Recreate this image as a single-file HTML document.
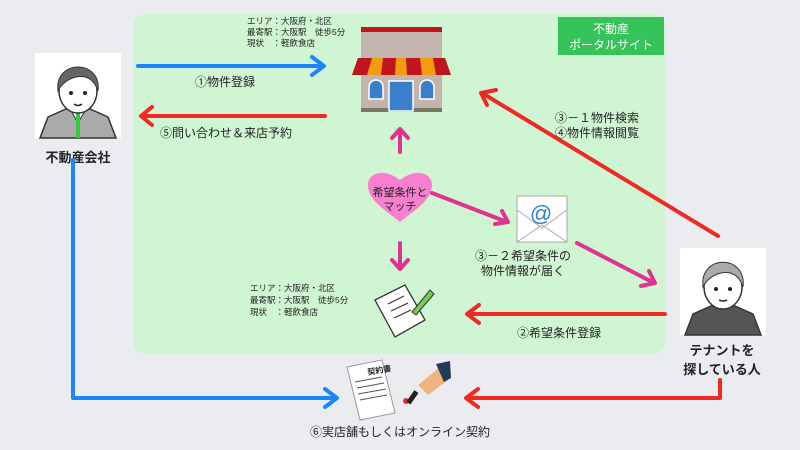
<!DOCTYPE html>
<html><head><meta charset="utf-8"><style>
html,body{margin:0;padding:0;width:800px;height:450px;overflow:hidden;background:#ebecf0}
text{font-family:"Liberation Sans","Noto Sans CJK JP",sans-serif;fill:#222}
</style></head><body>
<svg width="800" height="450" viewBox="0 0 800 450" xmlns="http://www.w3.org/2000/svg">
<rect x="133" y="14" width="532" height="340" rx="12" fill="#d0f5d3"/>
<rect x="558" y="17" width="106" height="38" fill="#35c35a"/>
<text x="611" y="33" font-size="12" text-anchor="middle" style="fill:#fff">不動産</text>
<text x="611" y="49" font-size="12" text-anchor="middle" style="fill:#fff">ポータルサイト</text>

<!-- people -->
<rect x="35" y="53" width="86" height="85" fill="#fff"/>
<g transform="translate(78,95)">
<path d="M-38 43 L-30 22 L-12 14 L12 14 L30 22 L38 43Z" fill="#aaa" stroke="#333" stroke-width="1.5"/>
<path d="M-8 14 L0 28 L8 14Z" fill="#fff" stroke="#333"/><rect x="-2" y="18" width="4" height="25" fill="#3c3"/>
<ellipse cx="0" cy="-4" rx="19" ry="22" fill="#fff" stroke="#333" stroke-width="1.5"/>
<path d="M-20 -4 C-24 -36 24 -36 20 -4 C16 -16 8 -20 -2 -18 C-10 -16 -16 -12 -20 -4Z" fill="#666" stroke="#333"/>
<circle cx="-7" cy="-2" r="2" fill="#222"/><circle cx="7" cy="-2" r="2" fill="#222"/>
<path d="M-4 9 Q0 12 4 9" stroke="#222" fill="none" stroke-width="1.5"/>
</g>
<text x="78" y="162" font-size="13" font-weight="bold" text-anchor="middle">不動産会社</text>

<rect x="680" y="248" width="86" height="87" fill="#fff"/>
<g transform="translate(723,290)">
<path d="M-38 45 L-30 24 L-12 16 L12 16 L30 24 L38 45Z" fill="#555" stroke="#333" stroke-width="1.5"/>
<ellipse cx="0" cy="-3" rx="19" ry="22" fill="#fff" stroke="#333" stroke-width="1.5"/>
<path d="M-20 -3 C-24 -36 24 -36 20 -3 C16 -15 8 -19 -2 -17 C-10 -15 -16 -11 -20 -3Z" fill="#aaa" stroke="#333"/>
<circle cx="-7" cy="-1" r="2" fill="#222"/><circle cx="7" cy="-1" r="2" fill="#222"/>
<path d="M-4 10 Q0 12 4 10" stroke="#222" fill="none" stroke-width="1.5"/>
</g>
<text x="722" y="355" font-size="13" font-weight="bold" text-anchor="middle">テナントを</text>
<text x="722" y="374" font-size="13" font-weight="bold" text-anchor="middle">探している人</text>

<!-- shop -->
<rect x="361" y="27" width="81" height="5" fill="#c0151c"/>
<rect x="361" y="32" width="81" height="80" fill="#c3b5ae"/>
<path d="M352 75 L358 58 L445 58 L451 75Z" fill="#f39c12"/>
<path d="M352 75 L358 58 L372 58 L367 75Z M381 75 L383 58 L396 58 L395 75Z M407 75 L406 58 L420 58 L422 75Z M436 75 L433 58 L445 58 L451 75Z" fill="#c0151c"/>
<rect x="361" y="108" width="81" height="4" fill="#776"/>
<rect x="389" y="81" width="24" height="30" fill="#3a7fcc" stroke="#fff" stroke-width="1.5"/>
<path d="M369 99 V87 a7 7 0 0 1 14 0 V99Z" fill="#3a7fcc" stroke="#fff" stroke-width="1.5"/>
<path d="M420 99 V87 a7 7 0 0 1 14 0 V99Z" fill="#3a7fcc" stroke="#fff" stroke-width="1.5"/>

<text font-size="8.5"><tspan x="247" y="24">エリア：大阪府・北区</tspan><tspan x="247" y="35">最寄駅：大阪駅　徒歩5分</tspan><tspan x="247" y="46">現状　：軽飲食店</tspan></text>
<text font-size="8.5"><tspan x="250" y="291">エリア：大阪府・北区</tspan><tspan x="250" y="303">最寄駅：大阪駅　徒歩5分</tspan><tspan x="250" y="315">現状　：軽飲食店</tspan></text>

<!-- heart -->
<path d="M400 222 C385 210 368 200 368 185 C368 172 385 168 400 180 C415 168 432 172 432 185 C432 200 415 210 400 222Z" fill="#f77fcf"/>
<text x="400" y="196" font-size="11" text-anchor="middle">希望条件と</text>
<text x="400" y="210" font-size="11" text-anchor="middle">マッチ</text>

<!-- mail -->
<rect x="517" y="196" width="50" height="46" fill="#fff" stroke="#aaa"/>
<path d="M517 210 L542 228 L567 210 M517 242 L542 225 L567 242" stroke="#aaa" fill="none"/>
<text x="541" y="221" font-size="22" text-anchor="middle" style="fill:#2a7fd4">@</text>

<!-- note -->
<path d="M375 300 L405 285 L425 320 L395 337Z" fill="#fff" stroke="#333" stroke-width="1.3"/>
<path d="M388 304 L404 296 M391 311 L408 303 M394 318 L411 310" stroke="#333" stroke-width="1.2"/>
<path d="M412 312 L430 290 L434 294 L416 315Z" fill="#7c5" stroke="#333"/>

<!-- contract -->
<path d="M347 367 L382 360 L395 413 L360 420Z" fill="#fff" stroke="#999"/>
<text x="368" y="375" font-size="8" font-weight="bold" transform="rotate(-10 368 375)">契約書</text>
<g stroke="#555" stroke-width="1"><path d="M355 382 L382 377 M357 388 L384 383 M358 394 L386 389 M360 400 L387 395"/></g>
<circle cx="406" cy="401" r="3" fill="#d33"/>
<path d="M418 385 L440 367 L448 380 L428 395Z" fill="#f0b37e"/>
<path d="M436 364 L450 361 L451 378 L444 382Z" fill="#1f3b57"/>
<rect x="410" y="390" width="5" height="14" fill="#222" transform="rotate(35 412 397)"/>

<g fill="none" stroke-width="4" stroke-linecap="round" stroke-linejoin="round">
<!-- blue -->
<path d="M138 66 H323 M312 57 L324 66 L312 75" stroke="#1a85ff"/>
<path d="M73 160 V398 H336 M325 389 L337 398 L325 407" stroke="#1a85ff"/>
<!-- red -->
<path d="M325 116 H142 M152 107 L141 116 L152 125" stroke="#ee2a24"/>
<path d="M718 236 L482 93 M496 90 L481 93 L487 105" stroke="#ee2a24"/>
<path d="M665 314 H468 M479 305 L467 314 L479 323" stroke="#ee2a24"/>
<path d="M720 380 V398 H467 M478 389 L466 398 L478 407" stroke="#ee2a24"/>
<!-- pink -->
<g stroke="#e0338f">
<path d="M400 152 V130 M392 138 L400 129 L408 138"/>
<path d="M432 193 L507 222 M495 224 L508 222 L502 211"/>
<path d="M400 243 V268 M392 260 L400 269 L408 260"/>
<path d="M577 243 L654 283 M641 286 L655 283 L649 271"/>
</g>
</g>

<text x="195" y="86" font-size="12">①物件登録</text>
<text x="160" y="137" font-size="12">⑤問い合わせ＆来店予約</text>
<text x="555" y="122" font-size="12">③－１物件検索</text>
<text x="555" y="137" font-size="12">④物件情報閲覧</text>
<text x="523" y="260" font-size="12" text-anchor="middle">③－２希望条件の</text>
<text x="523" y="275" font-size="12" text-anchor="middle">物件情報が届く</text>
<text x="517" y="337" font-size="12">②希望条件登録</text>
<text x="400" y="436" font-size="12" text-anchor="middle">⑥実店舗もしくはオンライン契約</text>
</svg>
</body></html>
